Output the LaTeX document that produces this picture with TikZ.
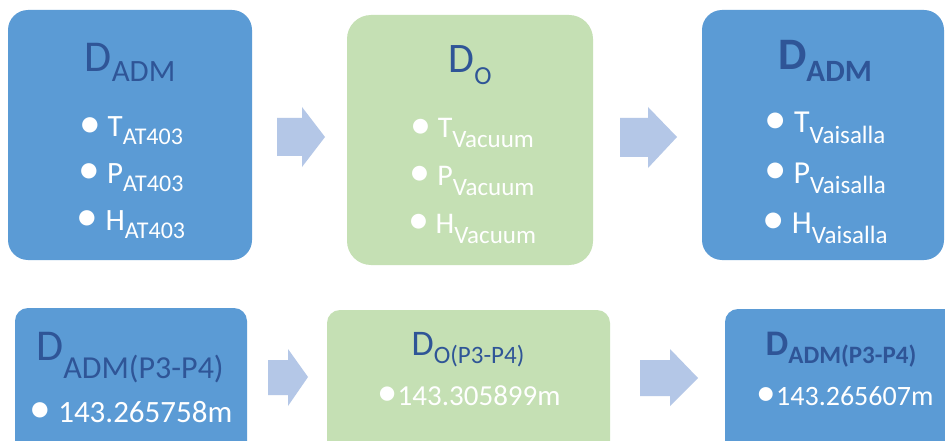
\documentclass[tikz,border=0pt]{standalone}
\usepackage{fontspec}
\usepackage{graphicx}
\setmainfont{Carlito}
\definecolor{boxblue}{HTML}{5B9BD5}
\definecolor{boxgreen}{HTML}{C5E0B4}
\definecolor{arrowblue}{HTML}{B4C7E7}
\definecolor{titleblue}{HTML}{2F5597}
\newcommand\bdot{\raisebox{-0.02em}{\scalebox{1.4}{•}}}
\newcommand\mytitle[5]{{\fontsize{#1}{#1}\selectfont #2}\raisebox{-#4pt}{\fontsize{#3}{#3}\selectfont #5}}
\newcommand\mybullet[5]{{\fontsize{#1}{#1}\selectfont \bdot{} #2}\raisebox{-#4pt}{\fontsize{#3}{#3}\selectfont #5}}
\tikzset{
  bigbox/.style={rectangle, rounded corners=20pt, inner sep=0pt, draw=none},
  smallbox/.style={rectangle, rounded corners=13pt, inner sep=0pt, draw=none},
  ttl/.style={anchor=base, inner sep=0pt, text=titleblue},
  itm/.style={anchor=base, inner sep=0pt, text=white},
  blockarrow/.style={fill=arrowblue, draw=none}
}
\begin{document}
\begin{tikzpicture}[x=1pt,y=-1pt]
\clip (0,0) rectangle (945,441);
\useasboundingbox (0,0) rectangle (945,441);
\fill[white] (0,0) rectangle (945,441);
% top row boxes
\node[bigbox, fill=boxblue, minimum width=244pt, minimum height=250pt] (b1) at (130,135) {};
\node[bigbox, fill=boxgreen, minimum width=246pt, minimum height=250pt, rounded corners=24pt] (b2) at (470,140) {};
\node[bigbox, fill=boxblue, minimum width=242pt, minimum height=250pt] (b3) at (823,135) {};
% bottom row boxes
\node[smallbox, fill=boxblue, minimum width=232pt, minimum height=147pt] (b4) at (131,381.5) {};
\node[smallbox, fill=boxgreen, minimum width=283pt, minimum height=145pt] (b5) at (468.5,382.5) {};
\node[smallbox, fill=boxblue, minimum width=235pt, minimum height=146pt] (b6) at (842.5,382) {};
% block arrows
\fill[blockarrow] (277,118) -- (302,118) -- (302,107) -- (325,137) -- (302,167) -- (302,156) -- (277,156) -- cycle;
\fill[blockarrow] (620,118) -- (648,118) -- (648,107) -- (677,137) -- (648,168) -- (648,157) -- (620,157) -- cycle;
\fill[blockarrow] (268,360) -- (288,360) -- (288,349) -- (308,377) -- (288,406) -- (288,395) -- (268,395) -- cycle;
\fill[blockarrow] (640,360) -- (670,360) -- (670,349) -- (698,378) -- (670,406) -- (670,396) -- (640,396) -- cycle;
% box 1 text
\node[ttl] (t1) at (130,72) {\mytitle{44}{D}{31}{10}{ADM}};
\node[itm] (t1a) at (131,137) {\mybullet{31}{T}{24}{8}{AT403}};
\node[itm] (t1b) at (131,183) {\mybullet{31}{P}{24}{8}{AT403}};
\node[itm] (t1c) at (131,230) {\mybullet{31}{H}{24}{8}{AT403}};
% box 2 text
\node[ttl] (t2) at (470,73) {\mytitle{42}{D}{26}{12}{O}};
\node[itm] (t2a) at (472,138) {\mybullet{30}{T}{25}{10}{Vacuum}};
\node[itm] (t2b) at (472,185) {\mybullet{30}{P}{25}{10}{Vacuum}};
\node[itm] (t2c) at (472,233) {\mybullet{30}{H}{25}{10}{Vacuum}};
% box 3 text
\node[ttl, font=\bfseries] (t3) at (825,70) {\mytitle{45}{D}{31}{12}{ADM}};
\node[itm] (t3a) at (825,133) {\mybullet{32}{T}{25}{10}{Vaisalla}};
\node[itm] (t3b) at (825,183) {\mybullet{32}{P}{25}{10}{Vaisalla}};
\node[itm] (t3c) at (825,233) {\mybullet{32}{H}{25}{10}{Vaisalla}};
% box 4 text
\node[ttl] (t4) at (130,360) {\mytitle{44}{D}{32}{18}{ADM(P3-P4)}};
\node[itm, font=\fontsize{31}{31}\selectfont] (t4a) at (131,422) {\bdot{} 143.265758m};
% box 5 text
\node[ttl] (t5) at (468,355) {\mytitle{36}{D}{25}{8}{O(P3-P4)}};
\node[itm, font=\fontsize{29}{29}\selectfont] (t5a) at (469,405) {\bdot143.305899m};
% box 6 text
\node[ttl, font=\bfseries] (t6) at (841,355) {\mytitle{36}{D}{25}{8}{ADM(P3-P4)}};
\node[itm, font=\fontsize{28}{28}\selectfont] (t6a) at (845,405) {\bdot143.265607m};
\end{tikzpicture}
\end{document}
